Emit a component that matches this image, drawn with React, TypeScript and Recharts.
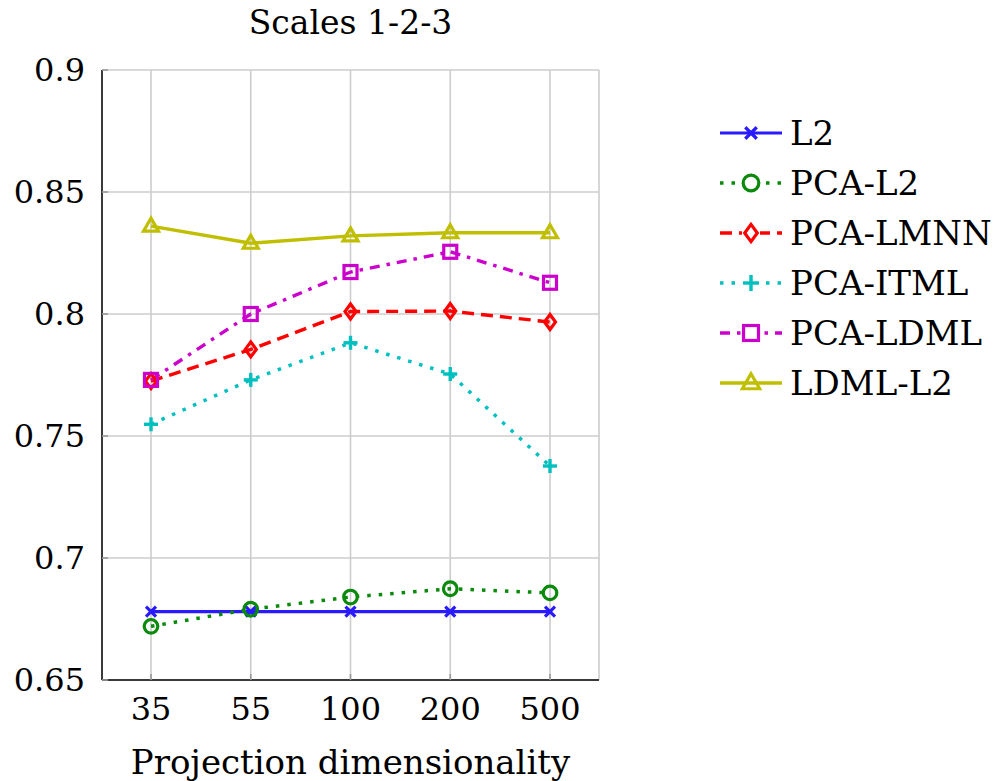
import React from 'react';
import { LineChart, Line, XAxis, YAxis, CartesianGrid, Legend } from 'recharts';

const categories = ['35', '55', '100', '200', '500'];
const l2 = [0.678, 0.678, 0.678, 0.678, 0.678];
const pcaL2 = [0.672, 0.679, 0.684, 0.6874, 0.6857];
const pcaLmnn = [0.7725, 0.7855, 0.801, 0.8012, 0.7967];
const pcaItml = [0.7548, 0.773, 0.7882, 0.7754, 0.7377];
const pcaLdml = [0.773, 0.8, 0.8172, 0.8255, 0.8128];
const ldmlL2 = [0.836, 0.829, 0.832, 0.8333, 0.8333];
const yTicks = [0.65, 0.7, 0.75, 0.8, 0.85, 0.9];

type Shape = 'cross' | 'circle' | 'diamond' | 'plus' | 'square' | 'triangle';
interface SeriesStyle { key: string; name: string; color: string; dash?: string; width: number; shape: Shape; values: number[] }

const series: SeriesStyle[] = [
  { key: 'l2', name: 'L2', color: '#2a1aff', width: 3.2, shape: 'cross', values: l2 },
  { key: 'pcaL2', name: 'PCA-L2', color: '#0a8a0a', dash: '3.5 8', width: 3.5, shape: 'circle', values: pcaL2 },
  { key: 'pcaLmnn', name: 'PCA-LMNN', color: '#ff0000', dash: '12 7', width: 3.4, shape: 'diamond', values: pcaLmnn },
  { key: 'pcaItml', name: 'PCA-ITML', color: '#00bfbf', dash: '3.5 8', width: 3.5, shape: 'plus', values: pcaItml },
  { key: 'pcaLdml', name: 'PCA-LDML', color: '#cc00cc', dash: '10 7 3.5 7', width: 3.4, shape: 'square', values: pcaLdml },
  { key: 'ldmlL2', name: 'LDML-L2', color: '#bfbf00', width: 3.4, shape: 'triangle', values: ldmlL2 },
];

const data = categories.map((cat, i) => {
  const row: Record<string, any> = { cat };
  series.forEach((s) => { row[s.key] = s.values[i]; });
  return row;
});

const FONT = '"DejaVu Serif", serif';

function marker(shape: Shape, cx: number, cy: number, color: string, key?: string, scale = 1) {
  const sw = 3.2;
  const k = scale;
  switch (shape) {
    case 'cross':
      return (
        <g key={key}>
          <line x1={cx - 5 * k} y1={cy - 5 * k} x2={cx + 5 * k} y2={cy + 5 * k} stroke={color} strokeWidth={3.2} />
          <line x1={cx - 5 * k} y1={cy + 5 * k} x2={cx + 5 * k} y2={cy - 5 * k} stroke={color} strokeWidth={3.2} />
        </g>
      );
    case 'circle':
      return <circle key={key} cx={cx} cy={cy} r={6.8 * k} fill="none" stroke={color} strokeWidth={sw} />;
    case 'diamond':
      return (
        <polygon key={key} points={`${cx},${cy - 7.5 * k} ${cx + 5.5 * k},${cy} ${cx},${cy + 7.5 * k} ${cx - 5.5 * k},${cy}`}
          fill="none" stroke={color} strokeWidth={sw} />
      );
    case 'plus':
      return (
        <g key={key}>
          <line x1={cx - 7 * k} y1={cy} x2={cx + 7 * k} y2={cy} stroke={color} strokeWidth={3.4} />
          <line x1={cx} y1={cy - 7 * k} x2={cx} y2={cy + 7 * k} stroke={color} strokeWidth={3.4} />
        </g>
      );
    case 'square':
      return <rect key={key} x={cx - 6.5 * k} y={cy - 6.5 * k} width={13 * k} height={13 * k} fill="none" stroke={color} strokeWidth={sw} />;
    case 'triangle':
    default:
      return (
        <polygon key={key} points={`${cx},${cy - 8 * k} ${cx + 7.5 * k},${cy + 5 * k} ${cx - 7.5 * k},${cy + 5 * k}`}
          fill="none" stroke={color} strokeWidth={sw} />
      );
  }
}

const makeDot = (s: SeriesStyle) => (props: any) => {
  const { cx, cy, index } = props;
  if (cx == null || cy == null) return <g key={`${s.key}-${index}`} />;
  return marker(s.shape, cx, cy, s.color, `${s.key}-${index}`);
};

const renderLegend = () => (
  <div style={{ fontFamily: FONT, fontSize: 34, color: '#000' }}>
    {series.map((s) => (
      <div key={s.key} style={{ display: 'flex', alignItems: 'center', height: 50 }}>
        <svg width={75} height={50} style={{ flex: 'none' }}>
          <line x1={5} x2={67} y1={25} y2={25} stroke={s.color} strokeWidth={s.width} strokeDasharray={s.dash} />
          <rect x={27} y={15} width={18} height={20} fill="#fff" opacity={s.dash ? 1 : 0} />
          {marker(s.shape, 36, 25, s.color, undefined, 1.15)}
        </svg>
        <span style={{ whiteSpace: 'nowrap', lineHeight: '50px' }}>{s.name}</span>
      </div>
    ))}
  </div>
);

export default function App() {
  return (
    <div style={{ position: 'absolute', left: 0, top: 0, width: 1000, height: 781, background: '#fff' }}>
      <div style={{ position: 'absolute', left: 102, top: 0, width: 497, height: 46, lineHeight: '46px', textAlign: 'center', fontFamily: FONT, fontSize: 33, color: '#000' }}>
        Scales 1-2-3
      </div>
      <LineChart width={1000} height={781} data={data} margin={{ top: 70, right: 401, left: 0, bottom: 0 }} style={{ fontFamily: FONT }}>
        <CartesianGrid xAxisId="main" yAxisId="main" stroke="#cccccc" strokeWidth={1.6} />
        <XAxis xAxisId="main" dataKey="cat" height={101} padding={{ left: 49, right: 49 }}
          tickSize={-6} tickMargin={23} tickLine={{ stroke: '#999', strokeWidth: 1.6 }}
          axisLine={{ stroke: '#3a3a3a', strokeWidth: 2 }}
          tick={{ fill: '#000', fontSize: 32, fontFamily: FONT }}
          label={{ value: 'Projection dimensionality', position: 'insideBottom', offset: 7, fill: '#000', fontSize: 34, fontFamily: FONT }} />
        <XAxis xAxisId="top" dataKey="cat" orientation="top" height={0} padding={{ left: 49, right: 49 }}
          tickSize={-6} tick={false} tickLine={{ stroke: '#999', strokeWidth: 1.6 }}
          axisLine={{ stroke: '#3a3a3a', strokeWidth: 2 }} />
        <YAxis yAxisId="main" type="number" domain={[0.65, 0.9]} ticks={yTicks} width={102}
          tickSize={-6} tickMargin={23} tickLine={{ stroke: '#999', strokeWidth: 1.6 }}
          axisLine={{ stroke: '#3a3a3a', strokeWidth: 2 }}
          tick={{ fill: '#000', fontSize: 32, fontFamily: FONT }} interval={0} />
        <YAxis yAxisId="right" orientation="right" type="number" domain={[0.65, 0.9]} ticks={yTicks} width={0}
          tickSize={-6} tick={false} tickLine={{ stroke: '#999', strokeWidth: 1.6 }}
          axisLine={{ stroke: '#3a3a3a', strokeWidth: 2 }} />
        <Legend layout="vertical" align="center" verticalAlign="middle" content={renderLegend}
          wrapperStyle={{ left: 715, top: 108, width: 285, height: 300 }} />
        {series.map((s) => (
          <Line key={s.key} xAxisId="main" yAxisId="main" dataKey={s.key} name={s.name} type="linear"
            stroke={s.color} strokeWidth={s.width} strokeDasharray={s.dash}
            dot={makeDot(s)} activeDot={false} isAnimationActive={false} />
        ))}
      </LineChart>
    </div>
  );
}
